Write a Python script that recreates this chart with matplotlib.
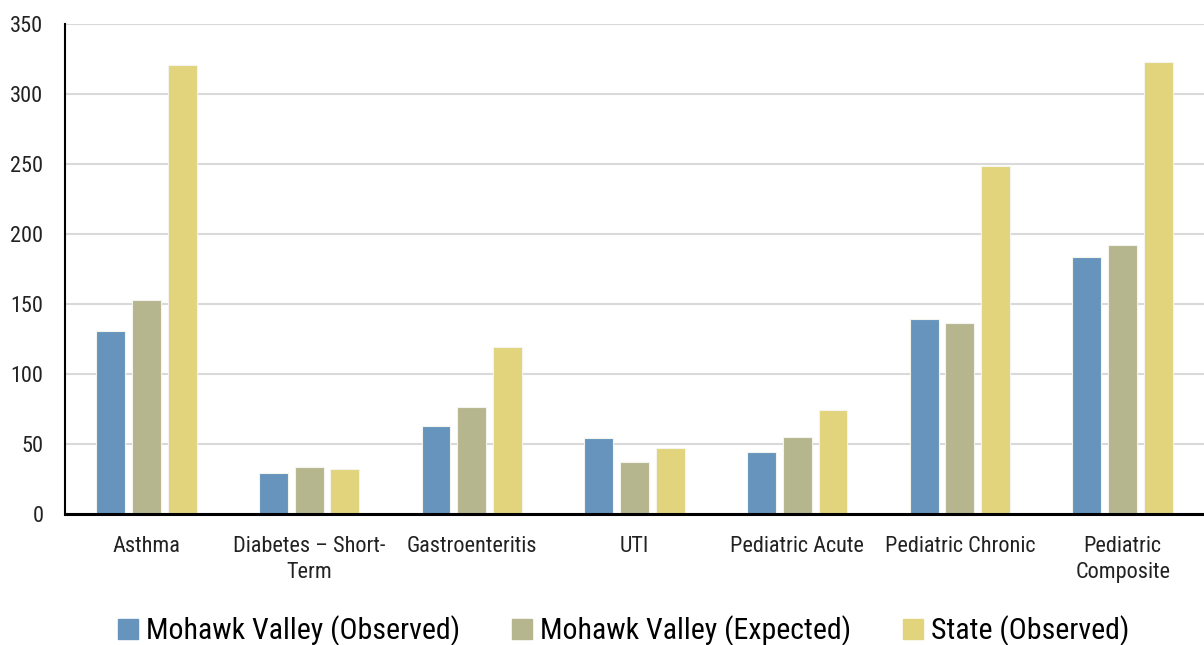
import numpy as np
import matplotlib.pyplot as plt
from matplotlib.patches import Patch

categories = ['Asthma', 'Diabetes \u2013 Short-\nTerm', 'Gastroenteritis', 'UTI',
              'Pediatric Acute', 'Pediatric Chronic', 'Pediatric\nComposite']
mv_observed = [130.7, 29.3, 62.9, 54.3, 44.0, 139.3, 183.6]
mv_expected = [152.9, 33.6, 76.4, 37.1, 55.0, 136.4, 192.1]
state_observed = [320.7, 32.1, 119.3, 47.1, 74.3, 248.6, 322.9]

series_names = ['Mohawk Valley (Observed)', 'Mohawk Valley (Expected)', 'State (Observed)']
colors = ['#6794bd', '#b5b68d', '#e2d47c']

plt.rcParams['font.family'] = ['Roboto Condensed', 'DejaVu Sans']

fig = plt.figure(figsize=(12.04, 6.45), dpi=100)
ax = fig.add_axes([65 / 1204, 131 / 645, 1 - 65 / 1204, 490 / 645])

x = np.arange(len(categories))
w = 0.178
step = 0.22
for i, vals in enumerate([mv_observed, mv_expected, state_observed]):
    ax.bar(x + (i - 1) * step, vals, width=w, color=colors[i],
           edgecolor='#f4f4ee', linewidth=0.8, zorder=3)

ax.set_xlim(-0.5, len(categories) - 0.5)
ax.set_ylim(0, 350)
ax.set_yticks(range(0, 351, 50))
ax.yaxis.grid(True, color='#d9d9d9', linewidth=1.5, zorder=0)
ax.set_xticks(x)
ax.set_xticklabels(categories, fontsize=16, color='#222222', linespacing=1.3)
ax.tick_params(axis='y', labelsize=16, length=0, pad=15.5, labelcolor='#222222')
ax.tick_params(axis='x', length=0, pad=16)

for s in ['top', 'right']:
    ax.spines[s].set_visible(False)
ax.spines['left'].set_linewidth(1.5)
ax.spines['bottom'].set_linewidth(2.2)
ax.spines['left'].set_zorder(4)
ax.spines['bottom'].set_zorder(4)

handles = [Patch(color=c, label=n) for c, n in zip(colors, series_names)]
fig.legend(handles=handles, loc='center', bbox_to_anchor=(0.518, 0.022), ncol=3,
           frameon=False, fontsize=21.5, handlelength=0.67, handleheight=0.67,
           handletextpad=0.25, columnspacing=1.75)

fig.savefig('out.png', dpi=100)
